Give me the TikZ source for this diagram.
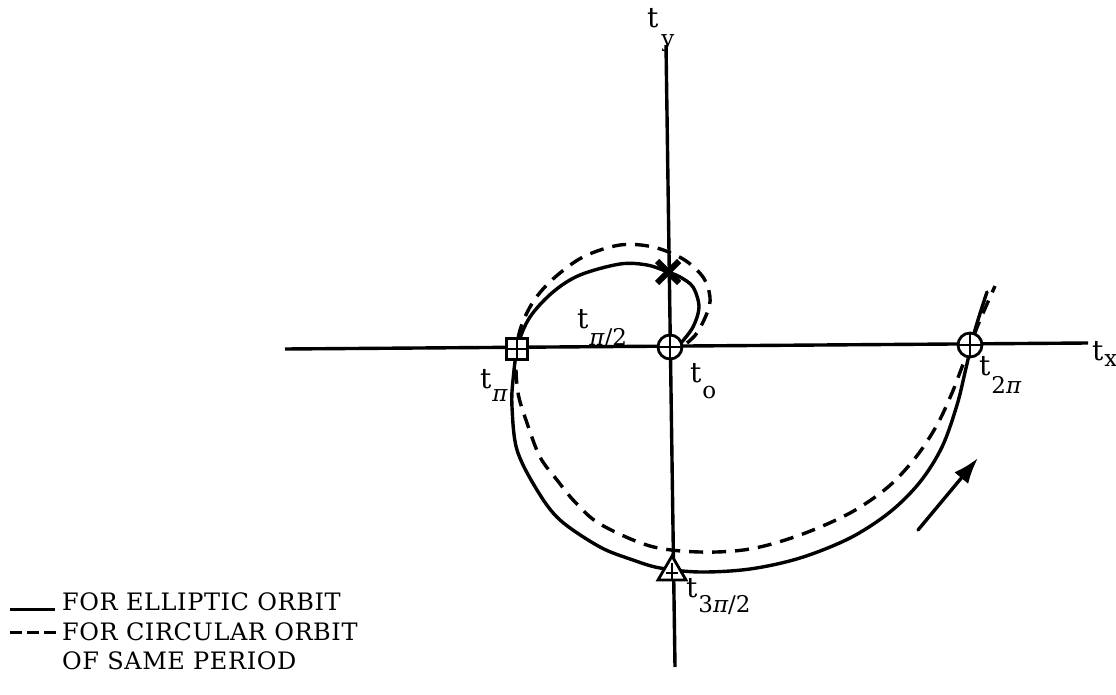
\documentclass[tikz,border=0pt]{standalone}
\usepackage{fontspec}
\setmainfont{DejaVu Serif}
\newfontfamily\legfont[LetterSpace=2.5]{DejaVu Serif}
\usetikzlibrary{arrows.meta}
\newcommand\subsz{\fontsize{23}{23}\selectfont}
\newcommand\tsz{\fontsize{28}{28}\selectfont}
\newcommand\tlab[2]{\tsz t\kern1pt\raisebox{#2}{\subsz #1}}
\newcommand\ip{{\itshape π}}
\begin{document}
\begin{tikzpicture}[x=1pt,y=-1pt,
  curve/.style={line width=3.4pt, line cap=round, line join=round},
  dsh/.style={line width=3.4pt, dash pattern=on 14pt off 9pt},
  axisline/.style={line width=3.4pt},
  mk/.style={draw, fill=white, line width=2.8pt, inner sep=0pt},
  thinx/.style={line width=1.3pt},
  lbl/.style={inner sep=0pt, anchor=base west},
  leg/.style={inner sep=0pt, anchor=base west, font=\legfont\fontsize{24}{24}\selectfont}]
\useasboundingbox (0,0) rectangle (1116,695);

% curves
\draw[dsh] plot[smooth, tension=0.55] coordinates {(687,343) (697,333) (707,313) (710,297) (703,277) (683,259) (653,247) (620,245) (583,257) (553,279) (533,302) (520,330) (516,360) (518,393) (527,423) (540,457) (557,480) (575,502) (600,524) (650,546) (700,552) (750,549) (800,535) (850,513) (888,487) (916,457) (937,425) (952,393) (962,367) (978,325) (995,286)};
\draw[curve] plot[smooth, tension=0.55] coordinates {(681,343) (693,327) (699,307) (693,287) (680,277) (668,272) (647,265) (620,264) (580,275) (553,292) (530,317) (518,345) (513,380) (512,407) (517,450) (537,490) (560,520) (600,547) (633,560) (660,568) (700,572) (750,569) (800,558) (850,538) (890,512) (920,482) (942,447) (957,405) (966,368) (975,330) (987,292)};

% axes
\coordinate (ytop) at (666,45);
\coordinate (ybot) at (675,667);
\coordinate (xl) at (285,349);
\coordinate (xr) at (1088,343);
\draw[axisline] (ytop) -- (ybot);
\draw[axisline] (xl) -- (xr);

% markers
\node[mk, circle, minimum size=24pt] (O) at (670,347) {};
\draw[thinx] (O.north) -- (O.south) (O.west) -- (O.east);
\node[mk, circle, minimum size=24pt] (Q) at (970,345) {};
\draw[thinx] (Q.north) -- (Q.south) (Q.west) -- (Q.east);
\node[mk, rectangle, minimum size=21pt] (P) at (517,349) {};
\draw[thinx] (P.north) -- (P.south) (P.west) -- (P.east);
\coordinate (T) at (672,570);
\draw[mk, line join=miter] (672,556) -- (686,580) -- (658,580) -- cycle;
\draw[thinx] (672,563) -- (672,579) (666,573) -- (678,573);
\coordinate (X) at (668,272);
\draw[line width=6pt] (X) ++(-11,-11) -- ++(22,22);
\draw[line width=6pt] (X) ++(11,-11) -- ++(-22,22);

% arrow
\coordinate (aS) at (918,530);
\coordinate (aE) at (978,458);
\draw[line width=3.4pt, line cap=round, -{Latex[length=26pt,width=18pt]}] (aS) -- (aE);

% labels
\node[lbl] (ly) at (647,28) {\tsz t\kern3pt\raisebox{-19pt}{\subsz y}};
\node[lbl] (lx) at (1092,360) {\tlab{x}{-6pt}};
\node[lbl] (lpi) at (480,388) {\tlab{\ip}{-13pt}};
\node[lbl] (lpi2) at (577,328) {\tlab{\ip/2}{-17pt}};
\node[lbl] (lo) at (690,382) {\tlab{o}{-16pt}};
\node[lbl] (l2pi) at (979,375) {\tlab{2\ip}{-18pt}};
\node[lbl] (l3pi) at (686,597) {\tlab{3\ip/2}{-15pt}};

% legend
\coordinate (s1) at (10,609);
\coordinate (s2) at (55,609);
\coordinate (d1) at (10,632);
\coordinate (d2) at (56,632);
\draw[line width=3pt] (s1) -- (s2);
\draw[line width=3pt, dash pattern=on 12pt off 5pt] (d1) -- (d2);
\node[leg] (t1) at (62,610) {FOR ELLIPTIC ORBIT};
\node[leg] (t2) at (62,640) {FOR CIRCULAR ORBIT};
\node[leg] (t3) at (62,669) {OF SAME PERIOD};
\end{tikzpicture}
\end{document}
